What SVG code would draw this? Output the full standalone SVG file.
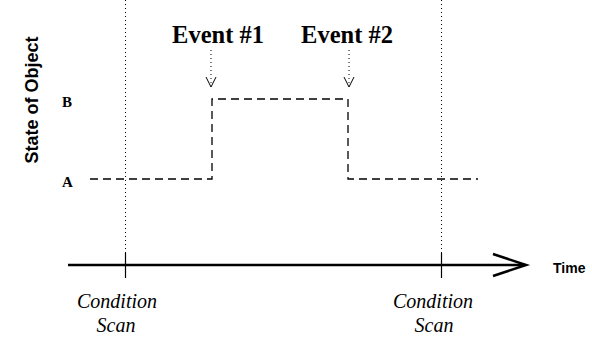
<svg xmlns="http://www.w3.org/2000/svg" width="592" height="341" viewBox="0 0 592 341">
  <style>
    .dotted { stroke: #000; stroke-width: 1; stroke-dasharray: 1 3; fill: none; }
    .dashed { stroke: #000; stroke-width: 1.3; stroke-dasharray: 8 5; fill: none; }
    .axis { stroke: #000; stroke-width: 2.6; fill: none; }
    .tick { stroke: #000; stroke-width: 1.2; fill: none; }
    .serif { font-family: "Liberation Serif", "Times New Roman", serif; }
    .sans { font-family: "Liberation Sans", Arial, sans-serif; font-weight: bold; }
  </style>
  <rect width="592" height="341" fill="#fff"/>

  <!-- condition scan guide lines -->
  <g id="guides">
    <line class="dotted" x1="125.5" y1="0" x2="125.5" y2="254"/>
    <line class="dotted" x1="441.5" y1="0" x2="441.5" y2="254"/>
  </g>

  <!-- object state trace -->
  <g id="state-trace">
    <polyline class="dashed" points="90,179 212,179 212,99 348,99 348,179 478,179"/>
  </g>

  <!-- event markers -->
  <g id="connectors">
    <line class="dotted" x1="211" y1="50" x2="211" y2="85"/>
    <polyline fill="none" stroke="#000" stroke-width="1" points="206,77 211,87 216,77"/>
    <line class="dotted" x1="349" y1="50" x2="349" y2="85"/>
    <polyline fill="none" stroke="#000" stroke-width="1" points="344,77 349,87 354,77"/>
  </g>

  <g id="event1"><text class="serif" font-weight="bold" font-size="24.5" x="218" y="43" text-anchor="middle">Event #1</text></g>
  <g id="event2"><text class="serif" font-weight="bold" font-size="24.5" x="347" y="43" text-anchor="middle">Event #2</text></g>

  <g id="levels" class="serif" font-weight="bold" font-size="15">
    <text x="62" y="107">B</text>
    <text x="62" y="187">A</text>
  </g>

  <g id="y-label">
    <text class="sans" font-size="18" text-anchor="middle" transform="translate(38,100) rotate(-90)">State of Object</text>
  </g>

  <!-- time axis -->
  <g id="time-axis">
    <line class="axis" x1="68" y1="265" x2="525" y2="265"/>
    <polyline class="axis" points="493,254 526,265 493,276"/>
    <line class="tick" x1="125.5" y1="253" x2="125.5" y2="278"/>
    <line class="tick" x1="441.5" y1="253" x2="441.5" y2="278"/>
    <text class="sans" font-size="14" x="553" y="273">Time</text>
  </g>

  <g id="scan1" class="serif" font-style="italic" font-size="20" text-anchor="middle">
    <text x="117" y="308">Condition</text>
    <text x="116" y="332">Scan</text>
  </g>
  <g id="scan2" class="serif" font-style="italic" font-size="20" text-anchor="middle">
    <text x="433" y="308">Condition</text>
    <text x="434" y="332">Scan</text>
  </g>
</svg>
